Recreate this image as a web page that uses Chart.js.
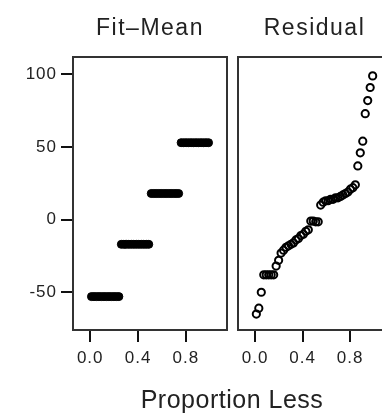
<!DOCTYPE html>
<html>
<head>
<meta charset="utf-8">
<script src="https://cdn.jsdelivr.net/npm/chart.js@4.4.1/dist/chart.umd.min.js"></script>
<style>
  html, body { margin: 0; padding: 0; background: #fff; width: 382px; height: 414px; overflow: hidden; }
  #wrap { position: relative; width: 400px; height: 414px; }
  .panel { position: absolute; top: 0; height: 414px; }
  #left { left: 0; width: 232px; }
  #right { left: 232px; width: 168px; }
  #xlabel { position: absolute; left: 0; width: 464px; top: 385px; text-align: center; line-height: normal;
            font: 25px 'Liberation Sans', Arial, sans-serif; letter-spacing: 0.5px; color: #222; }
</style>
</head>
<body>
<div id="wrap">
  <div class="panel" id="left"><canvas id="fit-mean"></canvas></div>
  <div class="panel" id="right"><canvas id="residual"></canvas></div>
  <div id="xlabel">Proportion Less</div>
</div>
<script>
// group means of the fitted values (Fit - Mean), 12 observations each
const groupMeans = [-53, -17, 18, 53];
const groupSize = 12;

// sorted residuals
const residuals = [
  -65, -61, -50, -38, -38, -38, -38, -38, -32, -28, -23, -21,
  -19, -18, -17, -16, -14, -13, -11, -10, -8, -7, -1, -1,
  -1.5, -1.5, 10, 12, 13, 13, 14, 14, 15, 15, 16, 17,
  18, 19, 21, 22, 24, 37, 46, 54, 73, 82, 91, 99
];

const xTicks = [0, 0.4, 0.8];
const yTicks = [-50, 0, 50, 100];

const fitValues = groupMeans.flatMap(m => Array(groupSize).fill(m));

// plotting position for the i-th of n sorted values
const proportion = (i, n) => (i + 0.5) / n;

const fitPoints = fitValues.map((v, i) => ({ x: proportion(i, fitValues.length), y: v }));
const residPoints = residuals.map((v, i) => ({ x: proportion(i, residuals.length), y: v }));

const textColor = '#222';
const tickFont = { family: "'Liberation Sans', Arial, sans-serif", size: 17 };

const panelBox = {
  id: 'panelBox',
  beforeDraw(chart) {
    chart.ctx.letterSpacing = '1px';
  },
  beforeDatasetsDraw(chart, args, opts) {
    const a = chart.chartArea;
    const ctx = chart.ctx;
    ctx.save();
    ctx.strokeStyle = '#333';
    ctx.lineWidth = 2;
    ctx.strokeRect(a.left, a.top, a.right - a.left, a.bottom - a.top);
    ctx.fillStyle = textColor;
    ctx.letterSpacing = '1.5px';
    ctx.font = "23px 'Liberation Sans', Arial, sans-serif";
    ctx.textAlign = 'center';
    ctx.textBaseline = 'alphabetic';
    ctx.fillText(opts.title, (a.left + a.right) / 2, 35);
    ctx.restore();
  }
};

function xScale() {
  return {
    type: 'linear',
    min: -0.144,
    max: 1.144,
    afterBuildTicks: s => { s.ticks = xTicks.map(v => ({ value: v })); },
    afterFit: s => { s.height = 84; },
    ticks: { callback: v => v.toFixed(1), font: tickFont, color: textColor, padding: 6, maxRotation: 0, autoSkip: false },
    grid: { drawOnChartArea: false, tickLength: 12, color: '#111', lineWidth: 2 },
    border: { display: false }
  };
}

const yRange = { min: -76, max: 112 };

// Panel 1 - Fit minus mean
const fitCtx = document.getElementById('fit-mean').getContext('2d');
const fitChart = new Chart(fitCtx, {
  type: 'scatter',
  data: {
    datasets: [{
      data: fitPoints,
      pointRadius: 4,
      pointBackgroundColor: '#000',
      pointBorderColor: '#000',
      pointBorderWidth: 1
    }]
  },
  options: {
    responsive: true,
    maintainAspectRatio: false,
    animation: false,
    layout: { padding: { top: 57, right: 3, left: 0, bottom: 0 } },
    plugins: { legend: { display: false }, tooltip: { enabled: false }, panelBox: { title: 'Fit\u2013Mean' } },
    scales: {
      x: xScale(),
      y: {
        type: 'linear',
        min: yRange.min,
        max: yRange.max,
        afterBuildTicks: s => { s.ticks = yTicks.map(v => ({ value: v })); },
        afterFit: s => { s.width = 73; },
        ticks: { font: tickFont, color: textColor, padding: 4 },
        grid: { drawOnChartArea: false, tickLength: 12, color: '#111', lineWidth: 2 },
        border: { display: false }
      }
    }
  },
  plugins: [panelBox]
});

// Panel 2 - Residuals
const residCtx = document.getElementById('residual').getContext('2d');
const residChart = new Chart(residCtx, {
  type: 'scatter',
  data: {
    datasets: [{
      data: residPoints,
      pointRadius: 3.6,
      pointBackgroundColor: 'rgba(0,0,0,0)',
      pointBorderColor: '#000',
      pointBorderWidth: 2
    }]
  },
  options: {
    responsive: true,
    maintainAspectRatio: false,
    animation: false,
    layout: { padding: { top: 57, right: 9, left: 3, bottom: 0 } },
    plugins: { legend: { display: false }, tooltip: { enabled: false }, panelBox: { title: 'Residual' } },
    scales: {
      x: xScale(),
      y: { type: 'linear', display: false, min: yRange.min, max: yRange.max }
    }
  },
  plugins: [panelBox]
});
</script>
</body>
</html>
